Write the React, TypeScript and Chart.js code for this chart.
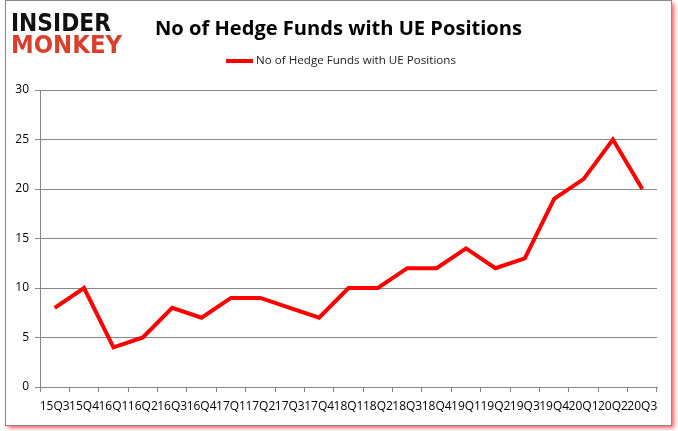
import React, { useEffect, useRef } from "react";
import { Chart, registerables } from "chart.js";

Chart.register(...registerables);

const categories = ["15Q3","15Q4","16Q1","16Q2","16Q3","16Q4","17Q1","17Q2","17Q3","17Q4","18Q1","18Q2","18Q3","18Q4","19Q1","19Q2","19Q3","19Q4","20Q1","20Q2","20Q3"];
const hedgeFunds = [8,10,4,5,8,7,9,9,8,7,10,10,12,12,14,12,13,19,21,25,20];
const yTicks = [0,5,10,15,20,25,30];
const titleText = "No of Hedge Funds with UE Positions";
const seriesLabel = "No of Hedge Funds with UE Positions";

const W = 678;
const H = 431;

function fitText(ctx: CanvasRenderingContext2D, text: string, x: number, y: number, width: number) {
  const m = ctx.measureText(text).width;
  ctx.save();
  ctx.translate(x, y);
  ctx.scale(width / m, 1);
  ctx.fillText(text, 0, 0);
  ctx.restore();
}

const decor = {
  id: "decor",
  beforeDraw(chart: any) {
    const ctx = chart.ctx as CanvasRenderingContext2D;
    ctx.save();
    ctx.fillStyle = "#ffffff";
    ctx.fillRect(0, 0, W, H);
    ctx.shadowColor = "rgba(255,40,40,0.75)";
    ctx.shadowBlur = 4;
    ctx.shadowOffsetX = 3;
    ctx.shadowOffsetY = 3;
    ctx.fillRect(5, 0, 666, 425);
    ctx.restore();
    ctx.save();
    ctx.strokeStyle = "#8a8a8a";
    ctx.lineWidth = 1;
    ctx.strokeRect(5.5, 0.5, 666, 425);
    // logo
    ctx.textBaseline = "alphabetic";
    ctx.textAlign = "left";
    ctx.font = "bold 25px 'DejaVu Sans'";
    ctx.fillStyle = "#111111";
    fitText(ctx, "INSIDER", 11, 31, 100);
    ctx.fillStyle = "#d9402b";
    fitText(ctx, "MONKEY", 11, 53, 111);
    // title
    ctx.fillStyle = "#000000";
    ctx.font = "bold 20px 'Open Sans'";
    fitText(ctx, titleText, 155, 35, 367);
    // legend
    ctx.strokeStyle = "#ff0000";
    ctx.lineWidth = 4;
    ctx.beginPath();
    ctx.moveTo(226, 61);
    ctx.lineTo(253, 61);
    ctx.stroke();
    ctx.font = "11px 'Open Sans'";
    ctx.fillStyle = "#222222";
    ctx.textBaseline = "middle";
    fitText(ctx, seriesLabel, 256, 61, 200);
    ctx.restore();
  },
};

export default function App() {
  const ref = useRef<HTMLCanvasElement>(null);
  useEffect(() => {
    const chart = new Chart(ref.current as HTMLCanvasElement, {
      type: "line",
      data: {
        labels: categories,
        datasets: [
          {
            label: seriesLabel,
            data: hedgeFunds,
            borderColor: "#ff0000",
            backgroundColor: "#ff0000",
            borderWidth: 4,
            pointRadius: 0,
            tension: 0,
          },
        ],
      },
      options: {
        animation: false,
        responsive: false,
        devicePixelRatio: 1,
        layout: { padding: { top: 90, right: 21, bottom: 14, left: 0 } },
        plugins: {
          legend: { display: false },
          title: { display: false },
          tooltip: { enabled: false },
        },
        scales: {
          x: {
            offset: true,
            grid: {
              offset: true,
              drawOnChartArea: false,
              drawTicks: true,
              tickLength: 5,
              color: "#868686",
            },
            border: { color: "#868686", width: 1 },
            ticks: {
              autoSkip: false,
              maxRotation: 0,
              minRotation: 0,
              padding: 7,
              color: "#000000",
              font: { family: "'Open Sans'", size: 12 },
            },
            afterFit(scale: any) {
              scale.height = 30;
            },
          },
          y: {
            min: 0,
            max: 30,
            afterBuildTicks(scale: any) {
              scale.ticks = yTicks.map((v) => ({ value: v }));
            },
            grid: {
              color: "#868686",
              tickLength: 5,
              drawTicks: true,
            },
            border: { color: "#868686", width: 1 },
            ticks: {
              padding: 6,
              color: "#000000",
              font: { family: "'Open Sans'", size: 12 },
            },
            afterFit(scale: any) {
              scale.width = 40;
            },
          },
        },
      },
      plugins: [decor],
    });
    return () => chart.destroy();
  }, []);
  return (
    <div style={{ position: "absolute", left: 0, top: 0, width: W, height: H }}>
      <canvas ref={ref} width={W} height={H} style={{ width: W, height: H, display: "block" }} />
    </div>
  );
}
